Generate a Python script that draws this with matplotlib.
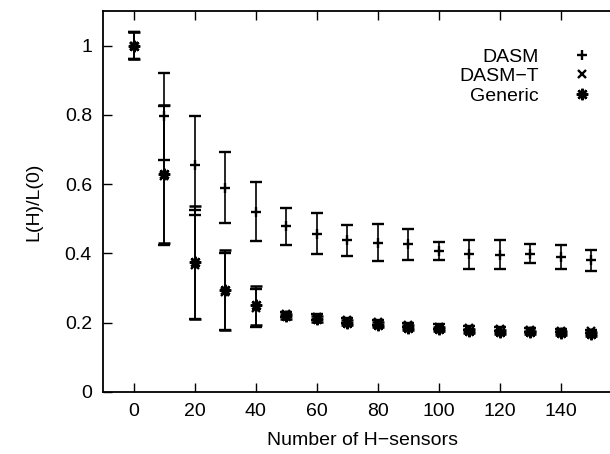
import matplotlib
matplotlib.use("Agg")
import matplotlib.pyplot as plt
from matplotlib.lines import Line2D

plt.rcParams['font.family'] = ['Liberation Sans', 'DejaVu Sans']

x = [0, 10, 20, 30, 40, 50, 60, 70, 80, 90, 100, 110, 120, 130, 140, 150]

dasm = [1.0, 0.796, 0.654, 0.59, 0.52, 0.478, 0.457, 0.438, 0.431, 0.427,
        0.407, 0.397, 0.396, 0.399, 0.39, 0.38]
dasm_err = [0.04, 0.125, 0.142, 0.102, 0.085, 0.053, 0.06, 0.044, 0.053, 0.045,
            0.027, 0.042, 0.042, 0.027, 0.034, 0.031]

dasm_t = [1.0, 0.625, 0.368, 0.29, 0.243, 0.224, 0.216, 0.207, 0.201, 0.193,
          0.189, 0.184, 0.181, 0.179, 0.177, 0.175]
dasm_t_err = [0.04, 0.2, 0.158, 0.11, 0.054, 0.008, 0.008, 0.007, 0.007, 0.006,
              0.006, 0.006, 0.006, 0.005, 0.005, 0.005]

generic = [1.0, 0.63, 0.375, 0.295, 0.25, 0.218, 0.21, 0.2, 0.194, 0.186,
           0.182, 0.177, 0.174, 0.172, 0.17, 0.168]
generic_err = [0.04, 0.2, 0.163, 0.115, 0.057, 0.008, 0.008, 0.007, 0.007, 0.006,
               0.006, 0.006, 0.006, 0.005, 0.005, 0.005]

labels = ["DASM", "DASM\u2212T", "Generic"]
xticks = [0, 20, 40, 60, 80, 100, 120, 140]
yticks = [0, 0.2, 0.4, 0.6, 0.8, 1.0]
yticklabels = ["0", "0.2", "0.4", "0.6", "0.8", "1"]

W, H = 610, 454
fig = plt.figure(figsize=(W / 100, H / 100), dpi=100)
left, right, top, bottom = 103, 622, 11, 392
ax = fig.add_axes([left / W, 1 - bottom / H, (right - left) / W, (bottom - top) / H])

FS = 14
ms = 7.5
cap = 4.3
ekw = dict(color='black', elinewidth=1.2, capsize=cap, capthick=1.2, linestyle='none')

ax.errorbar(x, dasm, yerr=dasm_err, marker='+', ms=ms, mew=1.7, **ekw)
ax.errorbar(x, dasm_t, yerr=dasm_t_err, marker='x', ms=ms * 0.85, mew=1.7, **ekw)
ax.errorbar(x, generic, yerr=generic_err, marker=(8, 2, 0), ms=ms * 1.1, mew=1.8, **ekw)

ax.set_xlim(-10, 160)
ax.set_ylim(0, 1.1)
ax.set_xticks(xticks)
ax.set_xticklabels([str(t) for t in xticks])
ax.set_yticks(yticks)
ax.set_yticklabels(yticklabels)
ax.tick_params(direction='in', length=6.5, width=1.0, top=True, right=True,
               labelsize=FS, pad=8)
for s in ax.spines.values():
    s.set_linewidth(1.3)

ax.set_xlabel("Number of H\u2212sensors", fontsize=FS)
ax.set_ylabel("L(H)/L(0)", fontsize=FS)
ax.xaxis.set_label_coords(0.5, -(432 - bottom) / (bottom - top))
ax.yaxis.set_label_coords(-(103 - 42) / (right - left), 0.5)

handles = [Line2D([], [], color='black', ls='none', marker='+', ms=ms, mew=1.7),
           Line2D([], [], color='black', ls='none', marker='x', ms=ms * 0.85, mew=1.7),
           Line2D([], [], color='black', ls='none', marker=(8, 2, 0), ms=ms * 1.1, mew=1.8)]
ax.legend(handles, labels, loc='upper right', markerfirst=False, frameon=False,
          fontsize=FS, handlelength=2.0, handletextpad=1.2, labelspacing=0.1,
          borderpad=0, borderaxespad=0,
          bbox_to_anchor=(601 / W, 1 - 48 / H), bbox_transform=fig.transFigure)

fig.savefig("out.png", dpi=100)
